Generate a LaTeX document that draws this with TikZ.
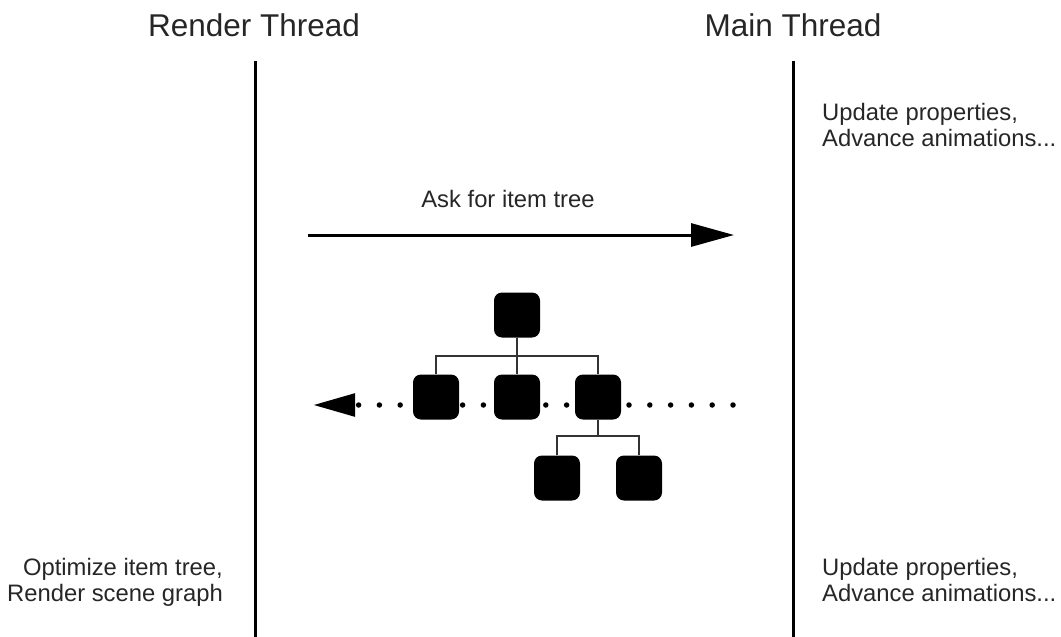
\documentclass[tikz,border=0pt]{standalone}
\usepackage{fontspec}
\setmainfont{Liberation Sans}
\usetikzlibrary{arrows.meta}
\begin{document}
\begin{tikzpicture}[x=1pt,y=-1pt,
  title/.style={font=\fontsize{31.5}{34}\selectfont, text=black!85, inner sep=0pt},
  note/.style={font=\fontsize{23.8}{26.5}\selectfont, text=black!85, inner sep=0pt},
  lifeline/.style={line width=3pt, black},
  treebox/.style={fill=black, rounded corners=8pt, minimum width=46pt, minimum height=45pt, inner sep=0pt},
  treelink/.style={line width=1.6pt, black!80},
  msg/.style={line width=3pt, -{Triangle[length=43pt,width=23pt]}},
  ret/.style={line width=5.5pt, line cap=round, dash pattern=on 0pt off 20.8pt, -{Triangle[length=42pt,width=22pt,line cap=butt]}}
]
\useasboundingbox (0,0) rectangle (1061,637);

% titles
\node[title, anchor=base] (rt) at (254,36) {Render Thread};
\node[title, anchor=base] (mt) at (793,36) {Main Thread};

% lifelines
\coordinate (rtop) at (255,61);
\coordinate (rbot) at (255,637);
\coordinate (mtop) at (793,61);
\coordinate (mbot) at (793,637);
\draw[lifeline] (rtop) -- (rbot);
\draw[lifeline] (mtop) -- (mbot);

% notes
\node[note, anchor=north west, align=left] (n1) at (822,103) {Update properties,\\Advance animations...};
\node[note, anchor=north west, align=left] (n2) at (822,558) {Update properties,\\Advance animations...};
\node[note, anchor=north east, align=right] (n3) at (223,558) {Optimize item tree,\\Render scene graph};

% ask arrow
\coordinate (a1) at (308,235);
\coordinate (a2) at (734,235);
\draw[msg] (a1) -- (a2);
\node[note, anchor=base] (ask) at (508,207) {Ask for item tree};

% return dotted arrow
\coordinate (d1) at (733,405);
\coordinate (d2) at (313,405);
\draw[ret] (d1) -- (d2);

% tree
\node[treebox] (root) at (517,315) {};
\node[treebox] (c1) at (436,397) {};
\node[treebox] (c2) at (517,397) {};
\node[treebox] (c3) at (598,397) {};
\node[treebox] (g1) at (557,478) {};
\node[treebox] (g2) at (639,478) {};

\coordinate (j1) at (517,356);
\coordinate (j2) at (598,436);
\draw[treelink] (root.south) -- (j1);
\draw[treelink] (c1.north) |- (j1) -| (c3.north);
\draw[treelink] (j1) -- (c2.north);
\draw[treelink] (c3.south) -- (j2);
\draw[treelink] (g1.north) |- (j2) -| (g2.north);
\end{tikzpicture}
\end{document}
